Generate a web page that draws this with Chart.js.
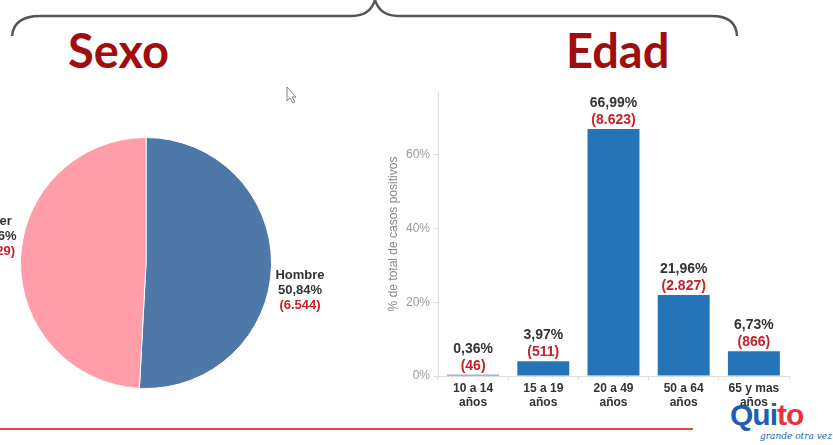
<!DOCTYPE html>
<html>
<head>
<meta charset="utf-8">
<script src="https://cdn.jsdelivr.net/npm/chart.js@4.4.1/dist/chart.umd.min.js"></script>
<style>
  html, body { margin: 0; padding: 0; background: #fff; }
  body { width: 833px; height: 445px; position: relative; overflow: hidden; font-family: "Liberation Sans", Arial, sans-serif; }
  .title { position: absolute; font-family: Lato, "Open Sans", sans-serif; font-weight: 700; font-size: 47px; color: #a00d0d; line-height: 1; }
  #pieBox { position: absolute; left: 0; top: 133px; }
  #barBox { position: absolute; left: 380px; top: 80px; }
  #redLine { position: absolute; left: 0; top: 428px; width: 693px; height: 2px; background: #e0474c; }
  .logo { position: absolute; font-family: "Liberation Sans", Arial, sans-serif; font-weight: 700; white-space: nowrap; line-height: 1; }
</style>
</head>
<body>
<svg width="833" height="445" style="position:absolute;left:0;top:0">
  <path d="M12,36 Q14,16 40,16 L352,16 Q370,16 375,0 Q380,16 398,16 L712,16 Q736,16 737,36" fill="none" stroke="#555" stroke-width="2.5"/>
  <path d="M287,87 L287,101 L290,98 L293,103 L295,102 L292,97 L296,97 Z" fill="#fff" stroke="#666" stroke-width="0.8"/>
</svg>
<div class="title" style="left:68px;top:27px">Sexo</div>
<div class="title" style="left:566px;top:27px">Edad</div>

<div id="pieBox"><canvas id="pieChart" width="340" height="260"></canvas></div>
<div class="logo" style="left:730px;top:400px;font-size:30px;color:#1f5fb0;letter-spacing:-1px">Qui<span style="color:#e8313a">to</span></div>
<div class="logo" style="left:760px;top:432px;font-family:'DejaVu Serif',serif;font-style:italic;font-weight:400;font-size:9px;color:#1f5fb0">grande otra vez</div>
<div id="barBox"><canvas id="barChart" width="453" height="336"></canvas></div>
<div id="redLine"></div>

<script>
const sexLabels = ['Hombre', 'Mujer'];
const sexPct = [50.84, 49.16];
const sexCount = ['6.544', '6.329'];

const ageLabels = [['10 a 14', 'años'], ['15 a 19', 'años'], ['20 a 49', 'años'], ['50 a 64', 'años'], ['65 y mas', 'años']];
const agePct = [0.36, 3.97, 66.99, 21.96, 6.73];
const ageCount = ['46', '511', '8.623', '2.827', '866'];

const yTicks = [0, 20, 40, 60];

function fmtPct(v) {
  return v.toFixed(2).replace('.', ',') + '%';
}

const darkText = '#333';
const redText = '#c8202a';

// labels next to the pie slices
const pieLabels = {
  id: 'pieLabels',
  afterDatasetsDraw(chart) {
    const ctx = chart.ctx;
    const arcs = chart.getDatasetMeta(0).data;
    ctx.save();
    ctx.font = 'bold 13px "Liberation Sans", Arial, sans-serif';
    ctx.textBaseline = 'middle';
    ctx.textAlign = 'center';
    arcs.forEach((arc, i) => {
      const mid = (arc.startAngle + arc.endAngle) / 2;
      const cos = Math.cos(mid);
      const lines = [sexLabels[i], fmtPct(sexPct[i])];
      const countTxt = '(' + sexCount[i] + ')';
      const w = Math.max(...lines.map(t => ctx.measureText(t).width), ctx.measureText(countTxt).width);
      const edge = arc.x + (arc.outerRadius + 4) * cos;
      const cx = cos > 0 ? edge + w / 2 : edge - w / 2;
      const cy = arc.y + arc.outerRadius * Math.sin(mid) + (cos > 0 ? 24 : -23);
      ctx.fillStyle = darkText;
      ctx.fillText(lines[0], cx, cy - 15);
      ctx.fillText(lines[1], cx, cy);
      ctx.fillStyle = redText;
      ctx.fillText(countTxt, cx, cy + 15);
    });
    ctx.restore();
  }
};

new Chart(document.getElementById('pieChart'), {
  type: 'pie',
  data: {
    labels: sexLabels,
    datasets: [{
      data: sexPct,
      backgroundColor: ['#4e78a7', '#ff9da8'],
      borderColor: '#ffffff',
      borderWidth: 1
    }]
  },
  options: {
    responsive: false,
    devicePixelRatio: 1,
    animation: false,
    layout: { padding: { left: 20, right: 68, top: 4, bottom: 4 } },
    plugins: {
      legend: { display: false },
      tooltip: { enabled: false }
    }
  },
  plugins: [pieLabels]
});

// value labels above the bars
const barLabels = {
  id: 'barLabels',
  afterDatasetsDraw(chart) {
    const ctx = chart.ctx;
    const bars = chart.getDatasetMeta(0).data;
    ctx.save();
    ctx.font = 'bold 14px "Liberation Sans", Arial, sans-serif';
    ctx.textAlign = 'center';
    ctx.textBaseline = 'middle';
    bars.forEach((bar, i) => {
      ctx.fillStyle = darkText;
      ctx.fillText(fmtPct(agePct[i]), bar.x, bar.y - 26);
      ctx.fillStyle = redText;
      ctx.fillText('(' + ageCount[i] + ')', bar.x, bar.y - 9);
    });
    ctx.restore();
  }
};

new Chart(document.getElementById('barChart'), {
  type: 'bar',
  data: {
    labels: ageLabels,
    datasets: [{
      data: agePct,
      backgroundColor: '#2674b8',
      barPercentage: 0.74,
      categoryPercentage: 1
    }]
  },
  options: {
    responsive: false,
    devicePixelRatio: 1,
    animation: false,
    layout: { padding: { left: 0, right: 44, top: 12, bottom: 0 } },
    plugins: {
      legend: { display: false },
      tooltip: { enabled: false }
    },
    scales: {
      x: {
        grid: { drawOnChartArea: false, tickLength: 4, color: '#ddd' },
        border: { color: '#ddd' },
        ticks: {
          color: darkText,
          font: { family: '"Liberation Sans", Arial, sans-serif', size: 12, weight: 'bold', lineHeight: 1.2 },
          maxRotation: 0,
          autoSkip: false,
          padding: 1
        },
        afterFit(scale) { scale.height = 40; }
      },
      y: {
        min: 0,
        max: 77,
        grid: { drawOnChartArea: false, tickLength: 4, color: '#ddd' },
        border: { color: '#ddd' },
        afterBuildTicks(scale) { scale.ticks = yTicks.map(v => ({ value: v })); },
        ticks: {
          color: '#999',
          padding: 4,
          font: { family: '"Liberation Sans", Arial, sans-serif', size: 12 },
          callback: v => v + '%'
        },
        title: {
          display: true,
          text: '% de total de casos positivos',
          color: '#888',
          padding: { top: 6, bottom: 0 },
          font: { family: '"Liberation Sans", Arial, sans-serif', size: 12 }
        },
        afterFit(scale) { scale.width = 58; }
      }
    }
  },
  plugins: [barLabels]
});
</script>
</body>
</html>
